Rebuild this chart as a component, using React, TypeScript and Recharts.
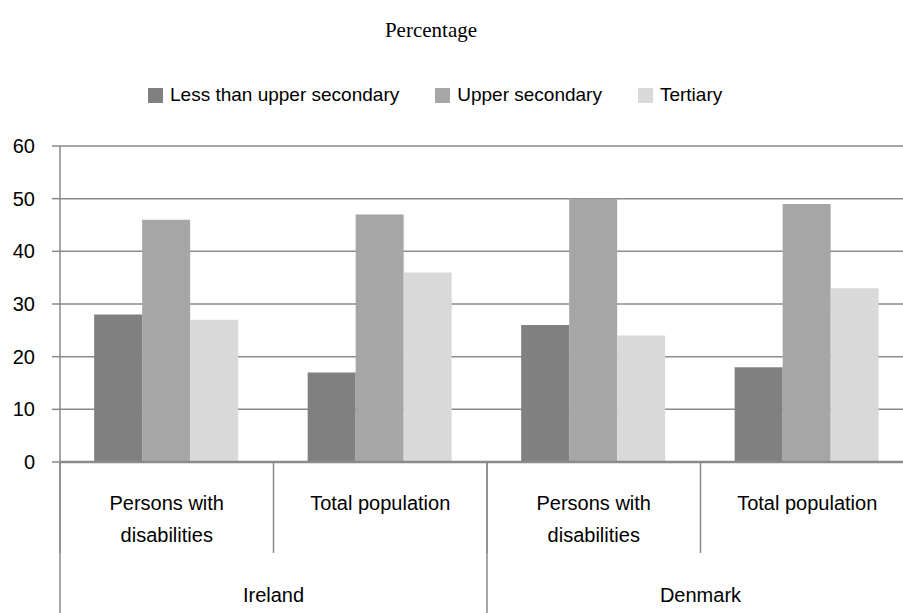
import React from 'react';
import { BarChart, Bar, XAxis, YAxis, CartesianGrid } from 'recharts';

// values
const subCategories = [
  'Persons with\ndisabilities',
  'Total population',
  'Persons with\ndisabilities',
  'Total population',
];
const countries = ['Ireland', 'Ireland', 'Denmark', 'Denmark'];
const lessThanUpperSecondary = [28, 17, 26, 18];
const upperSecondary = [46, 47, 50, 49];
const tertiary = [27, 36, 24, 33];
const yTicks = [0, 10, 20, 30, 40, 50, 60];

const series = [
  { key: 'lus', name: 'Less than upper secondary', color: '#808080' },
  { key: 'us', name: 'Upper secondary', color: '#a6a6a6' },
  { key: 'ter', name: 'Tertiary', color: '#d9d9d9' },
];

const data = subCategories.map((label, i) => ({
  label,
  country: countries[i],
  lus: lessThanUpperSecondary[i],
  us: upperSecondary[i],
  ter: tertiary[i],
}));

const FONT = '"Liberation Sans", Arial, sans-serif';
const LINE = '#8a8a8a';
const SUB_H = 91;
const COUNTRY_H = 60;

function SubTick(props: any) {
  const { x, y, payload } = props;
  const half = payload.offset ?? 0;
  const lines = String(payload.value).split('\n');
  return (
    <g>
      <line x1={x - half} x2={x - half} y1={y} y2={y + SUB_H} stroke={LINE} strokeWidth={1.5} />
      {lines.map((t, i) => (
        <text
          key={i}
          x={x}
          y={y + 41 + i * 32 + 7}
          textAnchor="middle"
          fontSize={20}
          fontFamily={FONT}
          fill="#000"
        >
          {t}
        </text>
      ))}
    </g>
  );
}

function CountryTick(props: any) {
  const { x, y, payload } = props;
  const half = payload.offset ?? 0;
  return (
    <g>
      <line x1={x - half} x2={x - half} y1={y - SUB_H} y2={y + COUNTRY_H} stroke={LINE} strokeWidth={1.5} />
      <text x={x} y={y + 42 + 7} textAnchor="middle" fontSize={20} fontFamily={FONT} fill="#000">
        {payload.value}
      </text>
    </g>
  );
}

export default function App() {
  return (
    <div
      style={{
        position: 'absolute',
        left: 0,
        top: 0,
        width: 903,
        height: 613,
        overflow: 'hidden',
        background: '#fff',
      }}
    >
      <div
        style={{
          position: 'absolute',
          left: 0,
          top: 17,
          width: 862,
          textAlign: 'center',
          fontFamily: '"Liberation Serif", "Times New Roman", serif',
          fontSize: 21,
          lineHeight: '26px',
          color: '#000',
          zIndex: 2,
        }}
      >
        Percentage
      </div>

      <div
        style={{
          position: 'absolute',
          left: 148,
          top: 84,
          height: 22,
          display: 'flex',
          alignItems: 'center',
          gap: 36,
          fontFamily: FONT,
          fontSize: 19,
          lineHeight: '22px',
          color: '#000',
          zIndex: 2,
          whiteSpace: 'nowrap',
        }}
      >
        {series.map((s) => (
          <div key={s.key} style={{ display: 'flex', alignItems: 'center' }}>
            <span style={{ width: 15, height: 15, background: s.color, marginRight: 7, display: 'inline-block' }} />
            <span>{s.name}</span>
          </div>
        ))}
      </div>

      <BarChart
        width={914}
        height={613}
        data={data}
        margin={{ top: 146, right: 0, left: 0, bottom: 0 }}
        barCategoryGap="16%"
        barGap={0}
        style={{ fontFamily: FONT }}
      >
        <CartesianGrid vertical={false} stroke={LINE} strokeWidth={1.5} />
        <XAxis
          xAxisId={0}
          dataKey="label"
          height={SUB_H}
          tickSize={0}
          tickMargin={0}
          tickLine={false}
          axisLine={{ stroke: LINE, strokeWidth: 2.5 }}
          tick={<SubTick />}
          interval={0}
        />
        <XAxis
          xAxisId="country"
          dataKey="country"
          allowDuplicatedCategory={false}
          height={COUNTRY_H}
          tickSize={0}
          tickMargin={0}
          tickLine={false}
          axisLine={false}
          tick={<CountryTick />}
          interval={0}
        />
        <YAxis
          width={60}
          domain={[0, 60]}
          ticks={yTicks}
          interval={0}
          tickSize={8}
          tickMargin={17}
          axisLine={{ stroke: LINE, strokeWidth: 1.5 }}
          tickLine={{ stroke: LINE, strokeWidth: 1.5 }}
          tick={{ fontSize: 20, fill: '#000', fontFamily: FONT }}
        />
        {series.map((s) => (
          <Bar key={s.key} dataKey={s.key} name={s.name} fill={s.color} xAxisId={0} isAnimationActive={false} />
        ))}
      </BarChart>
    </div>
  );
}
